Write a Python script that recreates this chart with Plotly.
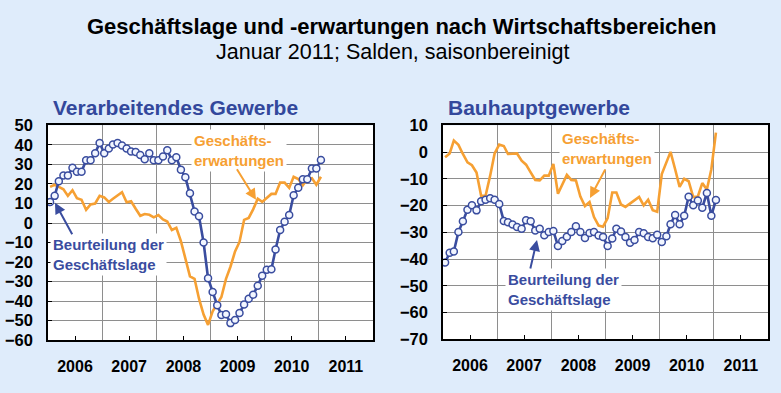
import pandas as pd
import plotly.graph_objects as go

# ---- data (monthly, Jan 2006 - Jan 2011) ----
months = pd.date_range("2006-01-01", periods=61, freq="MS") + pd.Timedelta(days=14)

vg_lage = [10.8, 13.9, 21.4, 24.3, 24.3, 28.3, 26.3, 26.3, 32.2, 32.2,
           35.8, 41.0, 35.8, 38.2, 40.2, 41.0, 39.7, 38.2, 36.6, 36.4,
           34.8, 32.7, 35.8, 32.2, 32.2, 34.1, 37.3, 32.2, 33.7, 27.3,
           23.4, 15.3, 5.9, 3.4, -10.0, -28.3, -35.3, -42.2, -47.1, -46.8,
           -51.3, -49.7, -46.1, -41.7, -38.8, -36.7, -32.2, -27.0, -24.0, -23.7,
           -13.6, -3.6, 0.6, 4.1, 14.2, 18.1, 22.4, 22.4, 27.9, 27.9,
           32.3]
vg_erw = [18.5, 19.6, 18.5, 17.3, 13.9, 16.8, 12.7, 11.9, 6.7, 9.5,
          10.0, 13.9, 13.1, 10.8, 12.4, 14.2, 15.8, 10.6, 11.1, 7.3,
          3.7, 4.6, 4.2, 2.9, 4.1, 1.8, 0.8, -3.6, -2.5, -9.3,
          -17.5, -27.3, -28.6, -38.8, -46.9, -52.2, -45.3, -41.2, -37.9, -28.6,
          -22.4, -14.6, -9.7, 1.6, 2.6, 7.0, 12.4, 10.8, 13.1, 14.9,
          14.9, 20.7, 20.7, 18.0, 23.7, 22.5, 19.3, 22.5, 23.0, 19.6,
          23.7]
bau_lage = [-41.3, -37.7, -37.2, -29.9, -25.9, -21.6, -19.9, -21.8, -18.4, -17.8,
            -17.3, -17.8, -19.4, -25.8, -26.2, -27.1, -28.0, -28.7, -25.5, -25.9,
            -29.3, -28.7, -31.1, -29.9, -29.5, -35.1, -33.3, -31.7, -29.9, -27.7,
            -29.9, -32.1, -30.3, -29.9, -31.2, -31.8, -35.1, -32.3, -28.7, -29.7,
            -31.8, -33.9, -32.9, -29.9, -30.4, -31.8, -32.2, -30.9, -33.6, -31.5,
            -27.0, -23.5, -27.0, -23.8, -16.7, -19.9, -18.1, -20.8, -15.3, -23.8,
            -17.9]
bau_erw = [-1.9, -0.5, 4.3, 2.7, -0.7, -3.8, -4.9, -7.6, -16.3, -16.3,
           -8.8, -0.5, 2.8, 2.3, -0.7, -0.7, -0.5, -3.2, -4.7, -7.6,
           -10.4, -10.6, -8.8, -8.8, -4.4, -15.6, -12.4, -8.5, -10.4, -10.6,
           -16.6, -20.2, -18.7, -24.3, -27.5, -27.9, -24.7, -15.1, -15.1, -19.6,
           -20.5, -19.2, -17.8, -16.8, -19.9, -17.8, -21.7, -22.3, -8.2, -3.5,
           0.1, -6.4, -13.0, -10.0, -10.9, -16.8, -16.6, -11.6, -14.0, -6.4,
           7.3]

year_labels = ["2006", "2007", "2008", "2009", "2010", "2011"]
year_ticks = [f"{y}-07-02" for y in year_labels]

title = "Geschäftslage und -erwartungen nach Wirtschaftsbereichen"
subtitle = "Januar 2011; Salden, saisonbereinigt"
panel_titles = ["Verarbeitendes Gewerbe", "Bauhauptgewerbe"]
lbl_erw = "Geschäfts-<br>erwartungen"
lbl_lage = "Beurteilung der<br>Geschäftslage"

ORANGE = "#F6A033"
BLUE = "#3A4D9F"
TITLEBLUE = "#33489C"
BG = "#DFECFB"
GRID = "#8E8E8E"
FONT = "Liberation Sans, Arial, sans-serif"

fig = go.Figure()

def add_panel(xa, ya, lage, erw):
    fig.add_trace(go.Scatter(x=months, y=erw, mode="lines", xaxis=xa, yaxis=ya,
                             line=dict(color=ORANGE, width=2.6), showlegend=False,
                             hoverinfo="skip"))
    fig.add_trace(go.Scatter(x=months, y=lage, mode="lines+markers", xaxis=xa, yaxis=ya,
                             line=dict(color=BLUE, width=2.6),
                             marker=dict(size=7, color="#F2F6FF",
                                         line=dict(color=BLUE, width=1.5)),
                             showlegend=False, hoverinfo="skip"))

add_panel("x", "y", vg_lage, vg_erw)
add_panel("x2", "y2", bau_lage, bau_erw)

xcommon = dict(
    type="date", range=["2006-01-01", "2012-01-01"],
    tickmode="array", tickvals=year_ticks, ticktext=year_labels,
    ticks="inside", ticklen=4, tickcolor="black", tickwidth=1,
    showgrid=False, showline=True, mirror=True, linecolor="black", linewidth=1.5,
    zeroline=False, ticklabelstandoff=11,
    tickfont=dict(family=FONT, size=16, color="black", weight="bold"),
    minor=dict(tickmode="array",
               tickvals=["2007-01-01", "2008-01-01", "2009-01-01", "2010-01-01", "2011-01-01"],
               showgrid=True, gridcolor=GRID, gridwidth=1, ticks=""),
)
ycommon = dict(
    dtick=10, ticks="inside", ticklen=4, tickcolor="black", tickwidth=1,
    showgrid=True, gridcolor=GRID, gridwidth=1, zeroline=False,
    showline=True, mirror=True, linecolor="black", linewidth=1.5,
    ticklabelstandoff=10,
    tickfont=dict(family=FONT, size=16.5, color="black", weight="bold"),
)

W, H = 781, 393
def px(x): return x / W
def py(y): return (H - y) / H

fig.update_layout(
    width=W, height=H,
    paper_bgcolor=BG, plot_bgcolor="white",
    margin=dict(l=0, r=0, t=0, b=0),
    xaxis=dict(domain=[px(48), px(373)], anchor="y", **xcommon),
    yaxis=dict(domain=[py(347), py(122)], anchor="x", range=[-60, 50], tick0=-60, **ycommon),
    xaxis2=dict(domain=[px(443), px(768)], anchor="y2", **xcommon),
    yaxis2=dict(domain=[py(346), py(122)], anchor="x2", range=[-70, 10], tick0=-70, **ycommon),
)

ann = []
# titles
ann.append(dict(text=f"<b>{title}</b>", x=px(401), y=py(18), xref="paper", yref="paper",
                showarrow=False, xanchor="center", yanchor="middle",
                font=dict(family=FONT, size=22, color="black")))
ann.append(dict(text=subtitle, x=px(392), y=py(45), xref="paper", yref="paper",
                showarrow=False, xanchor="center", yanchor="middle",
                font=dict(family=FONT, size=21.5, color="black")))
ann.append(dict(text=f"<b>{panel_titles[0]}</b>", x=px(51), y=py(103), xref="paper", yref="paper",
                showarrow=False, xanchor="left", yanchor="middle",
                font=dict(family=FONT, size=21, color=TITLEBLUE)))
ann.append(dict(text=f"<b>{panel_titles[1]}</b>", x=px(446), y=py(103), xref="paper", yref="paper",
                showarrow=False, xanchor="left", yanchor="middle",
                font=dict(family=FONT, size=21, color=TITLEBLUE)))

# series labels with white boxes
def label(text, x, y, color):
    ann.append(dict(text=f"<b>{text}</b>", x=px(x), y=py(y), xref="paper", yref="paper",
                    showarrow=False, xanchor="left", yanchor="middle", align="left",
                    bgcolor="white", borderpad=2,
                    font=dict(family=FONT, size=15, color=color)))

label(lbl_erw, 191, 148.5, ORANGE)
label(lbl_lage, 50, 257.5, BLUE)
label(lbl_erw, 559, 146.5, ORANGE)
label(lbl_lage, 505, 293.5, BLUE)

# arrows
def arrow(tip, tail, color):
    ann.append(dict(text="", x=px(tip[0]), y=py(tip[1]), xref="paper", yref="paper",
                    ax=tail[0] - tip[0], ay=tail[1] - tip[1],
                    showarrow=True, arrowhead=2, arrowsize=1.1, arrowwidth=2,
                    arrowcolor=color))

arrow((256, 200), (236, 168), ORANGE)
arrow((55, 203), (73, 236), BLUE)
arrow((590, 198), (606, 168), ORANGE)
arrow((537, 242), (530, 272), BLUE)

fig.update_layout(annotations=ann)
fig.write_html(
    "out.html",
    config={"displayModeBar": False},
    post_script=f"document.body.style.margin='0';document.body.style.background='{BG}';",
)
